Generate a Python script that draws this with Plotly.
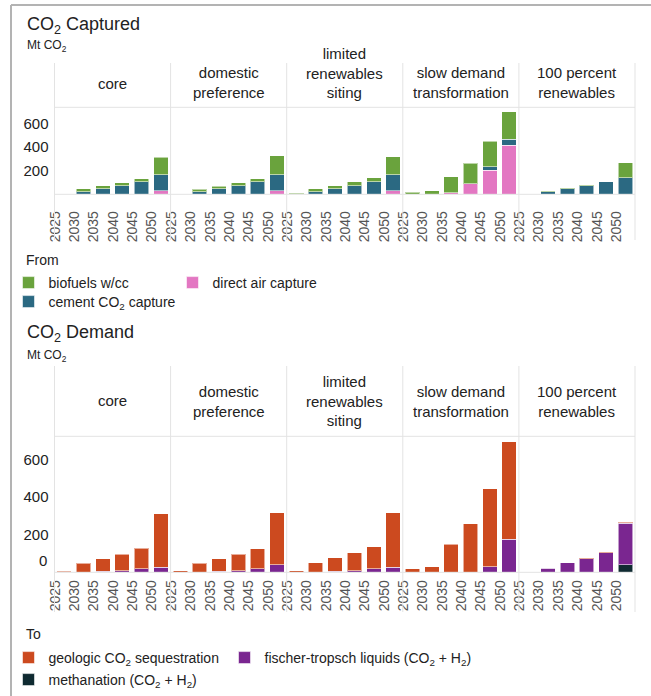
import plotly.graph_objects as go

W, H = 651, 696

years = ["2025", "2030", "2035", "2040", "2045", "2050"]
scenarios = ["core", "domestic preference", "limited renewables siting",
             "slow demand transformation", "100 percent renewables"]
header_text = ["core", "domestic<br>preference", "limited<br>renewables<br>siting",
               "slow demand<br>transformation", "100 percent<br>renewables"]

# CO2 captured by source, Mt CO2 (one row per scenario, one value per year)
cap_biofuels = [
    [5, 25, 25, 26, 26, 147],
    [5, 22, 22, 26, 26, 158],
    [8, 25, 25, 34, 34, 150],
    [17, 28, 135, 172, 217, 234],
    [0, 3, 3, 3, 3, 130],
]
cap_cement = [
    [0, 23, 48, 73, 104, 138],
    [0, 20, 48, 73, 104, 138],
    [0, 23, 48, 73, 104, 138],
    [0, 0, 0, 0, 28, 51],
    [1, 22, 48, 73, 104, 138],
]
cap_dac = [
    [0, 0, 0, 0, 0, 28],
    [0, 0, 0, 0, 0, 28],
    [0, 0, 0, 0, 0, 28],
    [0, 0, 14, 90, 203, 414],
    [0, 0, 0, 0, 0, 0],
]

# CO2 demand by use, Mt CO2
dem_geologic = [
    [5, 48, 66, 88, 108, 282],
    [9, 48, 66, 88, 105, 276],
    [7, 51, 73, 94, 116, 290],
    [19, 30, 150, 257, 414, 517],
    [1, 2, 1, 2, 5, 7],
]
dem_ft = [
    [0, 0, 5, 9, 19, 28],
    [0, 0, 5, 9, 19, 41],
    [0, 0, 5, 9, 19, 27],
    [0, 0, 0, 1, 30, 175],
    [0, 21, 50, 72, 103, 221],
]
dem_meth = [
    [0, 0, 0, 0, 0, 0],
    [0, 0, 0, 0, 0, 0],
    [0, 0, 0, 0, 0, 0],
    [0, 0, 0, 0, 0, 0],
    [0, 0, 0, 0, 0, 39],
]

y_ticks = [200, 400, 600]

FONT = "Liberation Sans, Arial, Helvetica, sans-serif"
GRID = "#e3e3e3"


def fx(px):
    return px / W


def fy(py):
    return 1 - py / H


facet_left = 54.5
facet_w = 116.1
edges = [facet_left + i * facet_w for i in range(6)]

charts = [
    dict(header_top=63, plot_top=107.3, base=194.3, label_bottom=240, ymax=735,
         label_gap=13, header_y=[83.3, 83, 72.7, 82.5, 82.5]),
    dict(header_top=366, plot_top=436.3, base=572.3, label_bottom=612, ymax=722,
         label_gap=4, header_y=[400.7, 401, 401, 401, 401]),
]

# name, values, colour, legend id, legend x (symbol centre), legend row y
top_series = [
    ("direct air capture", cap_dac, "#e377c2", "legend3", 193, 282),
    ("cement CO<sub>2</sub> capture", cap_cement, "#2b6982", "legend2", 29, 301),
    ("biofuels w/cc", cap_biofuels, "#6aa33d", "legend", 29, 282),
]
bottom_series = [
    ("methanation (CO<sub>2</sub> + H<sub>2</sub>)", dem_meth, "#0f2a31", "legend5", 29, 679),
    ("fischer-tropsch liquids (CO<sub>2</sub> + H<sub>2</sub>)", dem_ft, "#7a2690", "legend6", 245, 657),
    ("geologic CO<sub>2</sub> sequestration", dem_geologic, "#cc4a1f", "legend4", 29, 657),
]

fig = go.Figure()
layout = {}
legends = {}

for c, (series, yname) in enumerate([(top_series, "y"), (bottom_series, "y2")]):
    ch = charts[c]
    for i in range(5):
        ax_num = c * 5 + i + 1
        xname = "x" if ax_num == 1 else f"x{ax_num}"
        for name, data, color, leg, lx, ly in series:
            fig.add_trace(go.Bar(
                x=years, y=data[i], name=name, xaxis=xname, yaxis=yname,
                marker=dict(color=color, line=dict(color="rgba(255,255,255,0.55)", width=1)),
                legend=leg, legendgroup=name, showlegend=(i == 0),
                hovertemplate=scenarios[i] + " %{x}: %{y} Mt<extra>" + name + "</extra>",
            ))
        layout["xaxis" if ax_num == 1 else f"xaxis{ax_num}"] = dict(
            domain=[fx(edges[i]), fx(edges[i + 1])],
            anchor=yname, type="category", categoryorder="array", categoryarray=years,
            tickangle=-90, tickfont=dict(size=14, color="#555", family=FONT),
            ticks="", ticklabelshift=-9, ticklabelstandoff=ch["label_gap"],
            showgrid=False, zeroline=False, showline=False, fixedrange=True,
            automargin=False,
        )
    layout["yaxis" if c == 0 else "yaxis2"] = dict(
        domain=[fy(ch["base"]), fy(ch["plot_top"])], anchor="x" if c == 0 else "x6",
        range=[0, ch["ymax"]], tickvals=y_ticks, ticks="", ticklabelstandoff=5,
        tickfont=dict(size=15, color="#222", family=FONT),
        showgrid=False, zeroline=False, showline=False, fixedrange=True,
        automargin=False,
    )
    for name, data, color, leg, lx, ly in series:
        legends[leg] = dict(
            x=fx(lx - 20.5), y=fy(ly - 15), xanchor="left", yanchor="top",
            bgcolor="rgba(0,0,0,0)", font=dict(size=14, color="#222", family=FONT),
            orientation="v",
        )

shapes = []
annotations = []
for c, ch in enumerate(charts):
    # facet separators
    for e in edges:
        shapes.append(dict(type="line", xref="paper", yref="paper",
                           x0=fx(e), x1=fx(e), y0=fy(ch["header_top"]), y1=fy(ch["label_bottom"]),
                           line=dict(color=GRID, width=1)))
    for yy in (ch["plot_top"], ch["base"]):
        shapes.append(dict(type="line", xref="paper", yref="paper",
                           x0=fx(edges[0]), x1=fx(edges[-1]), y0=fy(yy), y1=fy(yy),
                           line=dict(color=GRID, width=1)))
    for i in range(5):
        annotations.append(dict(
            text=header_text[i], xref="paper", yref="paper",
            x=fx((edges[i] + edges[i + 1]) / 2), y=fy(ch["header_y"][i]),
            xanchor="center", yanchor="middle", showarrow=False,
            font=dict(size=15, color="#222", family=FONT)))

# zero label of the demand axis
annotations.append(dict(text="0", xref="paper", yref="paper", x=fx(48.5), y=fy(560),
                        xanchor="right", yanchor="middle", showarrow=False,
                        font=dict(size=15, color="#222", family=FONT)))

# chart titles, units and legend headings
for title, ty, uy, head, hy in [("CO<sub>2</sub> Captured", 25, 46.5, "From", 260),
                                ("CO<sub>2</sub> Demand", 333, 355.5, "To", 634)]:
    annotations.append(dict(text=title, xref="paper", yref="paper", x=fx(25), y=fy(ty),
                            xanchor="left", yanchor="middle", showarrow=False,
                            font=dict(size=18, color="#222", family=FONT)))
    annotations.append(dict(text="Mt CO<sub>2</sub>", xref="paper", yref="paper", x=fx(25), y=fy(uy),
                            xanchor="left", yanchor="middle", showarrow=False,
                            font=dict(size=12, color="#222", family=FONT)))
    annotations.append(dict(text=head, xref="paper", yref="paper", x=fx(24), y=fy(hy),
                            xanchor="left", yanchor="middle", showarrow=False,
                            font=dict(size=14, color="#222", family=FONT)))

# outer frame
shapes.append(dict(type="line", xref="paper", yref="paper", x0=fx(11), x1=1, y0=fy(5), y1=fy(5),
                   line=dict(color="#b3b3b3", width=2)))
shapes.append(dict(type="line", xref="paper", yref="paper", x0=fx(11), x1=fx(11), y0=fy(5), y1=0,
                   line=dict(color="#b3b3b3", width=2)))

layout.update(legends)

fig.update_layout(
    width=W, height=H, margin=dict(l=0, r=0, t=0, b=0, autoexpand=False),
    paper_bgcolor="white", plot_bgcolor="white",
    barmode="stack", bargap=0.25,
    font=dict(family=FONT, color="#222"),
    shapes=shapes, annotations=annotations,
    **layout,
)

fig.write_html("out.html")
